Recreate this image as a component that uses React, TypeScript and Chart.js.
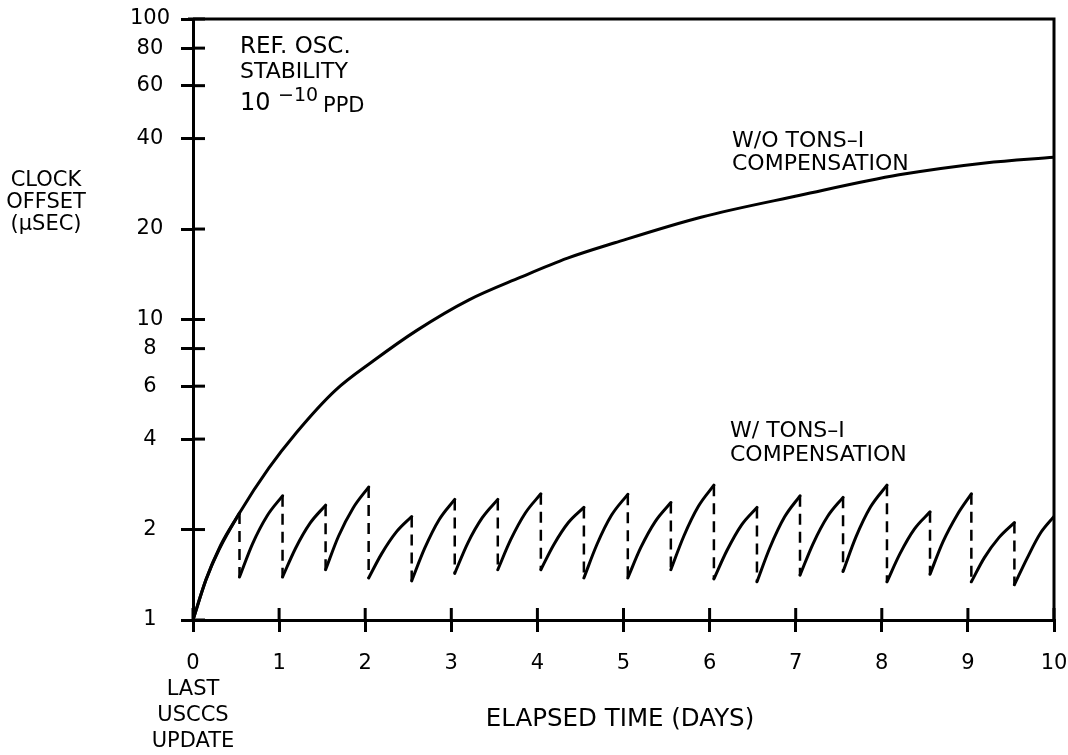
import React, { useEffect, useRef } from "react";
import { Chart, registerables } from "chart.js";

Chart.register(...registerables);

const FONT_FAMILY = '"DejaVu Sans", "Liberation Sans", sans-serif';

// ---- axes ----
const xTickValues = [0, 1, 2, 3, 4, 5, 6, 7, 8, 9, 10];
const xTickLabels: (string | string[])[] = [
  ["0", "LAST", "USCCS", "UPDATE"],
  "1", "2", "3", "4", "5", "6", "7", "8", "9", "10",
];
const yTickValues = [1, 2, 4, 6, 8, 10, 20, 40, 60, 80, 100];
const yTickLabels = ["1", "2", "4", "6", "8", "10", "20", "40", "60", "80", "100"];

// ---- W/O TONS-I compensation (elapsed days, clock offset in µs) ----
const withoutDays = [0, 0.15, 0.3, 0.54, 0.88, 1.2, 1.65, 2.1, 2.6, 3.2, 3.8, 4.35, 4.9, 5.9, 7.05, 8.2, 9.2, 10];
const withoutOffset = [1, 1.36, 1.71, 2.27, 3.2, 4.2, 5.8, 7.3, 9.2, 11.6, 13.8, 16, 18, 21.9, 25.9, 30.3, 33.2, 34.7];

// ---- W/ TONS-I compensation: one saw tooth per half day ----
const toothStartDay = [0, 0.54, 1.04, 1.54, 2.04, 2.54, 3.04, 3.54, 4.04, 4.54, 5.05, 5.55, 6.05, 6.55, 7.05, 7.55, 8.06, 8.56, 9.04, 9.54];
const toothLow = [1.0, 1.39, 1.39, 1.47, 1.38, 1.35, 1.43, 1.47, 1.47, 1.38, 1.38, 1.47, 1.37, 1.34, 1.41, 1.45, 1.34, 1.42, 1.34, 1.31];
const toothEarlyDay = [0.15, 0.69, 1.19, 1.69, 2.19, 2.69, 3.19, 3.69, 4.19, 4.69, 5.2, 5.7, 6.2, 6.7, 7.2, 7.7, 8.21, 8.71, 9.19, 9.69];
const toothEarly = [1.36, 1.79, 1.73, 1.9, 1.66, 1.73, 1.8, 1.85, 1.78, 1.78, 1.74, 1.9, 1.7, 1.74, 1.79, 1.89, 1.66, 1.82, 1.61, 1.61];
const toothLateDay = [0.32, 0.86, 1.36, 1.86, 2.36, 2.86, 3.36, 3.86, 4.36, 4.86, 5.37, 5.87, 6.37, 6.87, 7.37, 7.87, 8.38, 8.88, 9.36, 9.84];
const toothLate = [1.77, 2.22, 2.1, 2.36, 1.96, 2.16, 2.19, 2.27, 2.11, 2.23, 2.13, 2.39, 2.07, 2.2, 2.21, 2.38, 2.01, 2.25, 1.88, 1.94];
const toothEndDay = [0.54, 1.04, 1.54, 2.04, 2.54, 3.04, 3.54, 4.04, 4.54, 5.05, 5.55, 6.05, 6.55, 7.05, 7.55, 8.06, 8.56, 9.04, 9.54, 10];
const toothPeak = [2.27, 2.59, 2.41, 2.77, 2.21, 2.52, 2.52, 2.63, 2.37, 2.62, 2.46, 2.81, 2.37, 2.59, 2.56, 2.81, 2.29, 2.63, 2.11, 2.21];

// ---- text ----
const yTitleLines = ["CLOCK", "OFFSET", "(\u00B5SEC)"];
const noteLines = ["REF. OSC.", "STABILITY"];
const noteBase = "10";
const noteExp = "\u221210";
const noteUnit = "PPD";
const withoutLabel = ["W/O TONS\u2013I", "COMPENSATION"];
const withLabel = ["W/ TONS\u2013I", "COMPENSATION"];
const xTitle = "ELAPSED TIME (DAYS)";

const TICK_OUT = 12;
const TICK_IN = 12;

const decorPlugin = {
  id: "decor",
  afterDraw(chart: any) {
    const { ctx, chartArea: a, scales } = chart;
    ctx.save();
    ctx.strokeStyle = "#000";
    ctx.fillStyle = "#000";
    ctx.lineWidth = 3;
    // top and right frame
    ctx.beginPath();
    ctx.moveTo(a.left - 5, a.top);
    ctx.lineTo(a.right, a.top);
    ctx.lineTo(a.right, a.bottom);
    ctx.stroke();
    // inner halves of the tick crosses
    const ys = scales.y;
    ys.ticks.forEach((t: any) => {
      const p = ys.getPixelForValue(t.value);
      ctx.beginPath();
      ctx.moveTo(a.left, p);
      ctx.lineTo(a.left + TICK_IN, p);
      ctx.stroke();
    });
    const xs = scales.x;
    xs.ticks.forEach((t: any) => {
      const p = xs.getPixelForValue(t.value);
      ctx.beginPath();
      ctx.moveTo(p, a.bottom);
      ctx.lineTo(p, a.bottom - TICK_IN);
      ctx.stroke();
    });

    const put = (s: string, x: number, y: number, size: number, align: CanvasTextAlign = "left") => {
      ctx.font = `${size}px ${FONT_FAMILY}`;
      ctx.textAlign = align;
      ctx.textBaseline = "alphabetic";
      ctx.fillText(s, x, y);
    };
    // y title
    put(yTitleLines[0], 46, 186, 21, "center");
    put(yTitleLines[1], 46, 208, 21, "center");
    put(yTitleLines[2], 46, 230, 21, "center");
    // stability note
    put(noteLines[0], 240, 53, 23);
    put(noteLines[1], 240, 78, 22);
    put(noteBase, 240, 110, 24);
    put(noteExp, 278, 101, 19);
    put(noteUnit, 323, 112, 21);
    // curve labels
    put(withoutLabel[0], 732, 147, 22);
    put(withoutLabel[1], 732, 170, 22);
    put(withLabel[0], 730, 437, 22);
    put(withLabel[1], 730, 461, 22);
    // x title
    put(xTitle, 620, 726, 24.5, "center");
    ctx.restore();
  },
};

export default function App() {
  const ref = useRef<HTMLCanvasElement | null>(null);

  useEffect(() => {
    document.body.style.margin = "0";
    const canvas = ref.current;
    if (!canvas) return;

    const withoutPoints = withoutDays.map((d, i) => ({ x: d, y: withoutOffset[i] }));
    const sawPoints: any[] = [];
    const resetPoints: any[] = [];
    const n = toothStartDay.length;
    for (let i = 0; i < n; i++) {
      sawPoints.push(
        { x: toothStartDay[i], y: toothLow[i] },
        { x: toothEarlyDay[i], y: toothEarly[i] },
        { x: toothLateDay[i], y: toothLate[i] },
        { x: toothEndDay[i], y: toothPeak[i] }
      );
      if (i < n - 1) {
        sawPoints.push({ x: toothEndDay[i], y: null });
        resetPoints.push(
          { x: toothEndDay[i], y: toothPeak[i] },
          { x: toothEndDay[i], y: toothLow[i + 1] },
          { x: toothEndDay[i], y: null }
        );
      }
    }

    const chart = new Chart(canvas, {
      type: "line",
      data: {
        datasets: [
          {
            label: "W/O TONS-I COMPENSATION",
            data: withoutPoints,
            borderColor: "#000",
            borderWidth: 3,
            pointRadius: 0,
            cubicInterpolationMode: "monotone",
            fill: false,
          },
          {
            label: "W/ TONS-I COMPENSATION",
            data: sawPoints,
            borderColor: "#000",
            borderWidth: 3,
            pointRadius: 0,
            cubicInterpolationMode: "monotone",
            spanGaps: false,
            borderCapStyle: "round",
            fill: false,
          },
          {
            label: "reset",
            data: resetPoints,
            borderColor: "#000",
            borderWidth: 2.5,
            borderDash: [11, 7],
            pointRadius: 0,
            tension: 0,
            spanGaps: false,
            fill: false,
          },
        ],
      } as any,
      options: {
        responsive: false,
        animation: false,
        devicePixelRatio: 1,
        layout: { padding: { top: 19, right: 14, left: 0, bottom: 0 } },
        plugins: { legend: { display: false }, tooltip: { enabled: false } },
        scales: {
          x: {
            type: "linear",
            min: 0,
            max: 10,
            afterFit: (s: any) => {
              s.height = 135;
              s.paddingLeft = 0;
              s.paddingRight = 0;
            },
            afterBuildTicks: (s: any) => {
              s.ticks = xTickValues.map((v) => ({ value: v }));
            },
            ticks: {
              autoSkip: false,
              maxRotation: 0,
              padding: 18,
              color: "#000",
              font: { family: FONT_FAMILY, size: 21, lineHeight: 1.25 },
              callback: (v: any) => {
                const i = xTickValues.indexOf(Number(v));
                return i >= 0 ? xTickLabels[i] : "";
              },
            },
            grid: {
              drawOnChartArea: false,
              drawTicks: true,
              tickLength: TICK_OUT,
              color: "#000",
              lineWidth: 3,
            },
            border: { display: true, color: "#000", width: 3 },
          },
          y: {
            type: "logarithmic",
            min: 1,
            max: 100,
            afterFit: (s: any) => {
              s.width = 193;
              s.paddingTop = 0;
              s.paddingBottom = 0;
            },
            afterBuildTicks: (s: any) => {
              s.ticks = yTickValues.map((v) => ({ value: v }));
            },
            ticks: {
              autoSkip: false,
              padding: 11,
              crossAlign: "center",
              color: "#000",
              font: { family: FONT_FAMILY, size: 21 },
              callback: (v: any) => {
                const i = yTickValues.indexOf(Number(v));
                return i >= 0 ? yTickLabels[i] : "";
              },
            },
            grid: {
              drawOnChartArea: false,
              drawTicks: true,
              tickLength: TICK_OUT,
              color: "#000",
              lineWidth: 3,
            },
            border: { display: true, color: "#000", width: 3 },
          },
        },
      } as any,
      plugins: [decorPlugin],
    });

    return () => chart.destroy();
  }, []);

  return (
    <div style={{ width: 1068, height: 755, background: "#fff" }}>
      <canvas ref={ref} width={1068} height={755} style={{ display: "block" }} />
    </div>
  );
}
